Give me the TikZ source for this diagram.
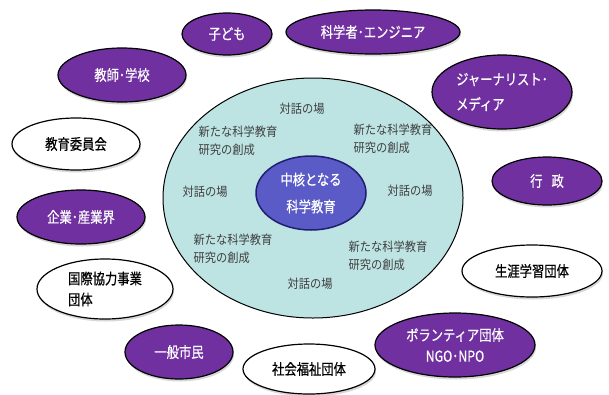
\documentclass[tikz,border=0pt]{standalone}
\usepackage{fontspec}
\setmainfont{Noto Sans CJK JP}
\newfontfamily\labfont[FakeStretch=0.82,FakeBold=0.6]{Noto Sans CJK JP}
\newfontfamily\inrfont[FakeStretch=0.9]{Noto Sans CJK JP}
\usetikzlibrary{shapes.geometric,shadows}
\definecolor{purp}{HTML}{7030A0}
\definecolor{cyanfill}{HTML}{BDE3E3}
\definecolor{corefill}{HTML}{5B5BC8}
\definecolor{coreline}{HTML}{1F1F6F}
\definecolor{inktxt}{HTML}{404040}
\begin{document}
\begin{tikzpicture}[x=1pt,y=-1pt,
 oval/.style={ellipse, draw=black, line width=1.2pt, inner sep=0pt,
   drop shadow={shadow xshift=1pt,shadow yshift=-2.5pt,fill=black!30}},
 pur/.style={oval, fill=purp, text=white, font=\labfont\fontsize{15}{21}\selectfont},
 wht/.style={oval, fill=white, text=black, font=\labfont\fontsize{15}{21}\selectfont},
 innertxt/.style={text=inktxt, font=\inrfont\fontsize{12.5}{18}\selectfont, align=left, inner sep=0pt}]
\useasboundingbox (0,0) rectangle (609,394);
% central region
\node[ellipse, draw=black, line width=1pt, fill=cyanfill, minimum width=300, minimum height=240] (big) at (313,198) {};
\node[ellipse, draw=coreline, line width=1.5pt, fill=corefill, text=white, minimum width=110, minimum height=74, inner sep=0pt, align=center, font=\labfont\fontsize{15}{27}\selectfont] (core) at (311,193) {中核となる\\科学教育};
% inner texts
\node[innertxt] (t1) at (302,109) {対話の場};
\node[innertxt] (t2) at (238,141) {新たな科学教育\\研究の創成};
\node[innertxt] (t3) at (393,139) {新たな科学教育\\研究の創成};
\node[innertxt] (t4) at (205,192) {対話の場};
\node[innertxt] (t5) at (410,191) {対話の場};
\node[innertxt] (t6) at (233,249) {新たな科学教育\\研究の創成};
\node[innertxt] (t7) at (388,256) {新たな科学教育\\研究の創成};
\node[innertxt] (t8) at (310,284) {対話の場};
% outer ellipses
\node[pur, minimum width=90, minimum height=42] (kodomo) at (227,34) {子ども};
\node[pur, minimum width=174, minimum height=44] (kagaku) at (373,32) {科学者･エンジニア};
\node[pur, minimum width=128, minimum height=54] (kyoshi) at (122,75) {教師･学校};
\node[pur, minimum width=140, minimum height=74, align=left, font=\labfont\fontsize{15}{25}\selectfont] (journal) at (502,92) {ジャーナリスト･\\メディア};
\node[wht, minimum width=128, minimum height=52] (iinkai) at (76,144) {教育委員会};
\node[pur, minimum width=110, minimum height=48] (gyosei) at (547,181) {行\hspace{9pt}政};
\node[pur, minimum width=128, minimum height=54] (kigyo) at (81,217) {企業･産業界};
\node[wht, minimum width=136, minimum height=60, align=left] (kokusai) at (105,289) {国際協力事業\\団体};
\node[wht, minimum width=140, minimum height=52] (shogai) at (532,271) {生涯学習団体};
\node[pur, minimum width=108, minimum height=54] (shimin) at (179,352) {一般市民};
\node[wht, minimum width=132, minimum height=50] (fukushi) at (309,369) {社会福祉団体};
\node[pur, minimum width=160, minimum height=64, align=center] (volunteer) at (455,345) {ボランティア団体\\NGO･NPO};
\end{tikzpicture}
\end{document}
